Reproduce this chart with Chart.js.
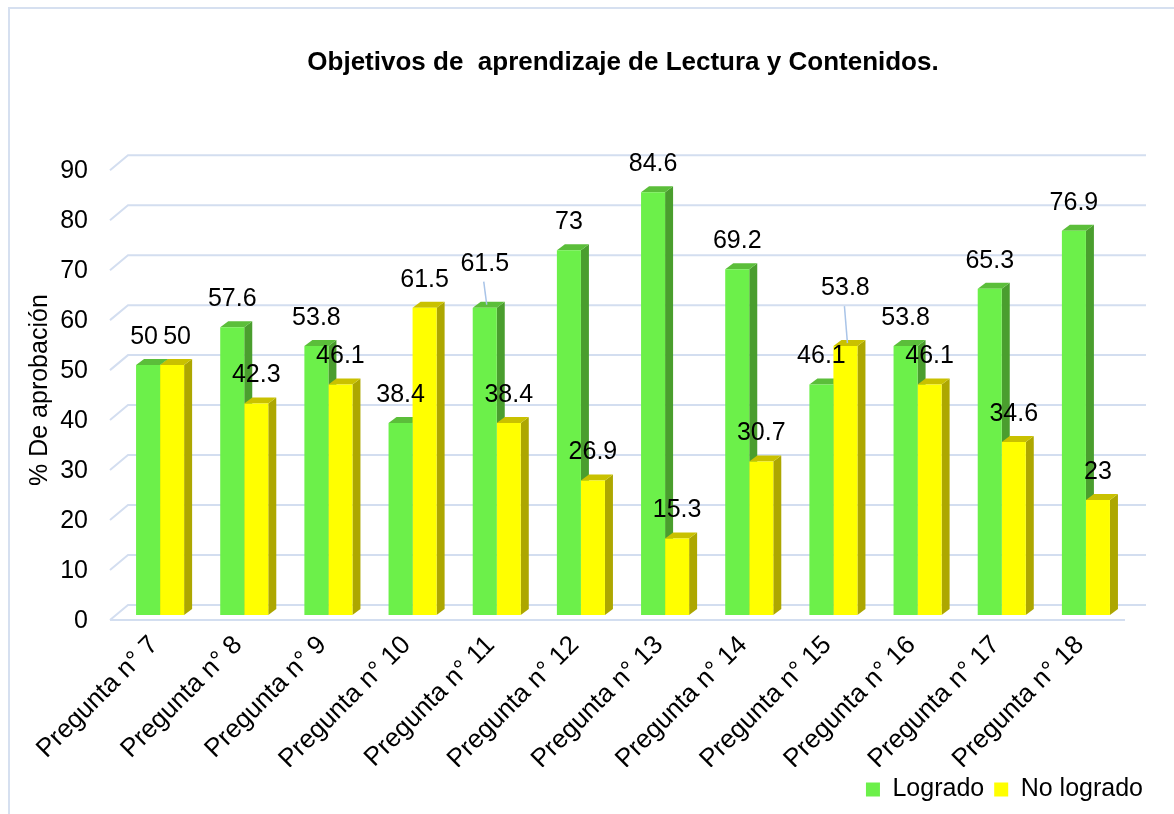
<!DOCTYPE html>
<html>
<head>
<meta charset="utf-8">
<script src="https://cdn.jsdelivr.net/npm/chart.js@4.4.1/dist/chart.umd.min.js"></script>
<style>
html,body{margin:0;padding:0;background:#fff;}
#wrap{width:1174px;height:814px;position:relative;}
</style>
</head>
<body>
<div id="wrap"><canvas id="c" width="1174" height="814"></canvas></div>
<script>
// ---- data ----
const categories = ['Pregunta n° 7','Pregunta n° 8','Pregunta n° 9','Pregunta n° 10','Pregunta n° 11','Pregunta n° 12','Pregunta n° 13','Pregunta n° 14','Pregunta n° 15','Pregunta n° 16','Pregunta n° 17','Pregunta n° 18'];
const logrado   = [50, 57.6, 53.8, 38.4, 61.5, 73, 84.6, 69.2, 46.1, 53.8, 65.3, 76.9];
const noLogrado = [50, 42.3, 46.1, 61.5, 38.4, 26.9, 15.3, 30.7, 53.8, 46.1, 34.6, 23];
const yTicks    = [0, 10, 20, 30, 40, 50, 60, 70, 80, 90];
const seriesNames = ['Logrado', 'No logrado'];

// ---- style ----
const FONT = '"Liberation Sans", Arial, sans-serif';
const front = ['#6CF04A', '#FFFF00'];
const shade = [{side:'#4A9E2E', top:'#5BBE3A'}, {side:'#ADA700', top:'#C9C100'}];
const DEPTH = {dx: 8, dy: 6};
const GRID_COLOR = '#D3DEF0';
// label nudges (dataset-index); entries with dy get a leader line
const labelNudge = {'0-0': {dx: -4}, '1-0': {dx: 5}, '0-4': {dy: -16}, '1-8': {dy: -30}};

const threeD = {
  id: 'threeD',
  beforeDraw(chart) {
    const ctx = chart.ctx;
    ctx.save();
    ctx.strokeStyle = '#D6E0F0';
    ctx.lineWidth = 2;
    ctx.strokeRect(9, 8, 1300, 1000);
    ctx.restore();
  },
  beforeDatasetsDraw(chart) {
    const {ctx, chartArea: {left, right}, scales: {y}} = chart;
    ctx.save();
    ctx.strokeStyle = GRID_COLOR;
    ctx.lineWidth = 2;
    y.ticks.forEach(t => {
      const p = y.getPixelForValue(t.value);
      ctx.beginPath();
      ctx.moveTo(left - 8, p + 5);
      ctx.lineTo(left + 10, p - 10);
      ctx.lineTo(right + 18, p - 10);
      ctx.stroke();
      if (t.value === 0) {
        ctx.beginPath();
        ctx.moveTo(left - 8, p + 5);
        ctx.lineTo(right - 3, p + 5);
        ctx.stroke();
      }
    });
    // side and top faces of the bars (front faces are drawn by Chart.js on top)
    const {dx, dy} = DEPTH;
    chart.data.datasets.forEach((ds, di) => {
      const s = shade[di];
      chart.getDatasetMeta(di).data.forEach(bar => {
        const {x, y: yy, base, width} = bar.getProps(['x', 'y', 'base', 'width'], true);
        const l = x - width / 2, r = x + width / 2;
        ctx.fillStyle = s.side;
        ctx.beginPath();
        ctx.moveTo(r, yy); ctx.lineTo(r + dx, yy - dy); ctx.lineTo(r + dx, base - dy); ctx.lineTo(r, base);
        ctx.closePath(); ctx.fill();
        ctx.fillStyle = s.top;
        ctx.beginPath();
        ctx.moveTo(l, yy); ctx.lineTo(l + dx, yy - dy); ctx.lineTo(r + dx, yy - dy); ctx.lineTo(r, yy);
        ctx.closePath(); ctx.fill();
      });
    });
    ctx.restore();
  },
  afterDatasetsDraw(chart) {
    const ctx = chart.ctx;
    ctx.save();
    ctx.font = '25px ' + FONT;
    ctx.textAlign = 'center';
    ctx.textBaseline = 'middle';
    chart.data.datasets.forEach((ds, di) => {
      const meta = chart.getDatasetMeta(di);
      meta.data.forEach((bar, i) => {
        const n = labelNudge[di + '-' + i] || {};
        const lx = bar.x + (n.dx || 0);
        const ly = bar.y - 28 + (n.dy || 0);
        if (n.dy) {
          ctx.strokeStyle = '#A9C4E8';
          ctx.lineWidth = 1.5;
          ctx.beginPath();
          ctx.moveTo(lx - 1, ly + 18);
          ctx.lineTo(bar.x + 2, bar.y - 3);
          ctx.stroke();
        }
        ctx.fillStyle = '#000';
        ctx.fillText(String(ds.data[i]), lx, ly);
      });
    });
    ctx.restore();
  }
};

Chart.defaults.font.family = FONT;
Chart.defaults.color = '#000';

new Chart(document.getElementById('c'), {
  type: 'bar',
  data: {
    labels: categories,
    datasets: [
      {label: seriesNames[0], data: logrado, backgroundColor: front[0], borderWidth: 0,
       categoryPercentage: 0.571, barPercentage: 1.0},
      {label: seriesNames[1], data: noLogrado, backgroundColor: front[1], borderWidth: 0,
       categoryPercentage: 0.571, barPercentage: 1.0}
    ]
  },
  options: {
    responsive: false,
    animation: false,
    layout: {padding: {left: 0, right: 21, top: 0, bottom: 2}},
    plugins: {
      title: {
        display: true,
        text: 'Objetivos de  aprendizaje de Lectura y Contenidos.',
        fullSize: false,
        font: {size: 26, weight: 'bold'},
        color: '#000',
        padding: {top: 47, bottom: 87}
      },
      legend: {
        position: 'bottom',
        align: 'end',
        labels: {boxWidth: 14, boxHeight: 14, font: {size: 25}, color: '#000', padding: 10}
      },
      tooltip: {enabled: false}
    },
    scales: {
      x: {
        grid: {display: false, drawTicks: false},
        border: {display: false},
        ticks: {minRotation: 45, maxRotation: 45, autoSkip: false, font: {size: 26}, color: '#000', padding: 15, labelOffset: -6},
        afterFit(s) { s.height = 152; }
      },
      y: {
        min: 0, max: 90,
        grid: {display: false, drawTicks: false},
        border: {display: false},
        ticks: {font: {size: 25}, color: '#000', padding: 30, labelOffset: 6},
        afterBuildTicks(s) { s.ticks = yTicks.map(v => ({value: v})); },
        title: {display: true, text: '% De aprobación', font: {size: 25}, color: '#000', padding: {top: 25, bottom: 0}},
        afterFit(s) { s.width = 118; }
      },
      y2: {
        type: 'linear',
        position: 'right',
        grid: {display: false, drawTicks: false},
        border: {display: false},
        ticks: {display: false},
        afterFit(s) { s.width = 25; }
      }
    }
  },
  plugins: [threeD]
});
</script>
</body>
</html>
